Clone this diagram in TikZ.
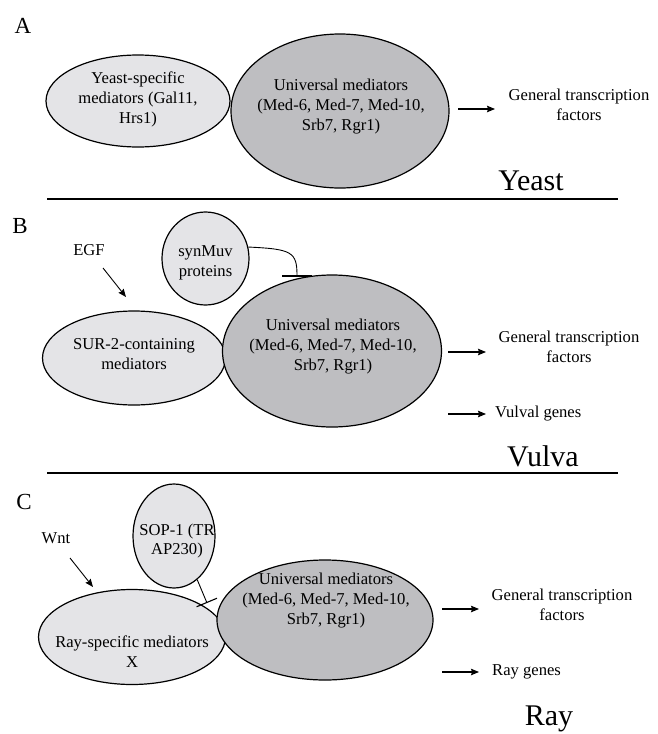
\documentclass[tikz,border=0pt]{standalone}
\usepackage{fontspec}
\setmainfont{Liberation Serif}
\usetikzlibrary{shapes.geometric,arrows.meta}
\definecolor{lightfill}{RGB}{228,228,231}
\definecolor{darkfill}{RGB}{190,190,193}
\tikzset{
  ell/.style={ellipse, draw=black, line width=1.2pt, inner sep=0pt},
  lightell/.style={ell, fill=lightfill},
  darkell/.style={ell, fill=darkfill},
  txt/.style={align=center, inner sep=1pt, font=\fontsize{16.6}{20}\selectfont},
  panel/.style={inner sep=0pt, font=\fontsize{23}{26}\selectfont},
  organism/.style={inner sep=0pt, font=\fontsize{30}{34}\selectfont},
  arr/.style={line width=1.1pt, -{Stealth[length=8pt,width=6.5pt,inset=1pt]}},
  thinarr/.style={line width=0.9pt, -{Stealth[length=8pt,width=6.5pt,inset=1pt]}},
  sep/.style={line width=1.4pt},
}
\begin{document}
\begin{tikzpicture}[x=1pt,y=-1pt]
\useasboundingbox (0,0) rectangle (657,734);

% ---------------- Panel A ----------------
\node[panel] (labA) at (23,26) {A};
\node[lightell, minimum width=184pt, minimum height=92pt] (yspec) at (138,101) {};
\node[txt] (yspecT) at (138,99) {Yeast-specific\\mediators (Gal11,\\Hrs1)};
\node[darkell, minimum width=218pt, minimum height=154pt] (univA) at (340,111) {};
\node[txt] (univAT) at (341,107) {Universal mediators\\(Med-6, Med-7, Med-10,\\Srb7, Rgr1)};
\coordinate (aAs) at (458,109);
\coordinate (aAe) at (495,109);
\draw[arr] (aAs) -- (aAe);
\node[txt] (gtfA) at (579,105) {General transcription\\factors};
\node[organism] (yeast) at (531,181) {Yeast};
\coordinate (sepAl) at (47,199);
\coordinate (sepAr) at (618,199);
\draw[sep] (sepAl) -- (sepAr);

% ---------------- Panel B ----------------
\node[panel] (labB) at (20,226) {B};
\node[txt] (egf) at (89,250) {EGF};
\coordinate (egfS) at (103,268);
\coordinate (egfE) at (126,297);
\draw[thinarr] (egfS) -- (egfE);
\node[lightell, minimum width=87pt, minimum height=93pt] (syn) at (205.5,258.5) {};
\node[txt] (synT) at (205.5,263) {synMuv\\proteins};
\node[lightell, minimum width=183pt, minimum height=94pt] (sur) at (134,358) {};
\node[txt] (surT) at (134,354) {SUR-2-containing\\mediators};
\node[darkell, minimum width=219pt, minimum height=152pt] (univB) at (332,351) {};
\node[txt] (univBT) at (333,347) {Universal mediators\\(Med-6, Med-7, Med-10,\\Srb7, Rgr1)};
\coordinate (inhB) at (297,276.5);
\draw[line width=0.9pt, -{Bar[width=30pt,line width=1.3pt]}] (syn.15) .. controls (292,249) and (297,252) .. (inhB);
\coordinate (aB1s) at (448,352);
\coordinate (aB1e) at (486,352);
\draw[arr] (aB1s) -- (aB1e);
\node[txt] (gtfB) at (569,347) {General transcription\\factors};
\coordinate (aB2s) at (448,414);
\coordinate (aB2e) at (486,414);
\draw[arr] (aB2s) -- (aB2e);
\node[txt, anchor=west] (vulgenes) at (494,414) {Vulval genes};
\node[organism] (vulva) at (543,456) {Vulva};
\coordinate (sepBl) at (47,473);
\coordinate (sepBr) at (618,473);
\draw[sep] (sepBl) -- (sepBr);

% ---------------- Panel C ----------------
\node[panel] (labC) at (24,502) {C};
\node[txt] (wnt) at (56,538) {Wnt};
\coordinate (wntS) at (70,558);
\coordinate (wntE) at (93,587);
\draw[thinarr] (wntS) -- (wntE);
\node[lightell, minimum width=82pt, minimum height=104pt] (sop) at (174,536) {};
\node[txt] (sopT) at (177,541) {SOP-1 (TR\\AP230)};
\node[lightell, minimum width=187pt, minimum height=95pt] (ray) at (132,637) {};
\node[txt] (rayT) at (132,652) {Ray-specific mediators\\X};
\node[darkell, minimum width=216pt, minimum height=120pt] (univC) at (325,620) {};
\node[txt] (univCT) at (326,601) {Universal mediators\\(Med-6, Med-7, Med-10,\\Srb7, Rgr1)};
\coordinate (inhC) at (207,603);
\draw[line width=0.9pt, -{Bar[width=22pt,line width=1.1pt]}] (sop.-62) -- (inhC);
\coordinate (aC1s) at (442,609);
\coordinate (aC1e) at (479,609);
\draw[arr] (aC1s) -- (aC1e);
\node[txt] (gtfC) at (562,605) {General transcription\\factors};
\coordinate (aC2s) at (442,672);
\coordinate (aC2e) at (479,672);
\draw[arr] (aC2s) -- (aC2e);
\node[txt, anchor=west] (raygenes) at (491,672) {Ray genes};
\node[organism] (rayorg) at (549,719) {Ray};
\end{tikzpicture}
\end{document}
